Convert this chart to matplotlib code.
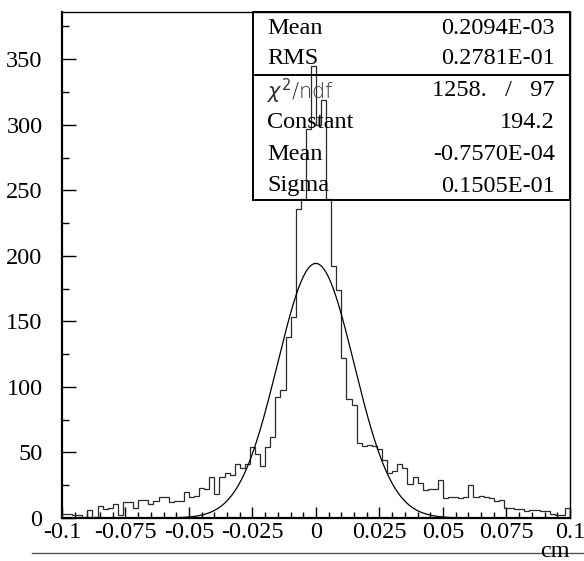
import numpy as np
import matplotlib.pyplot as plt
from matplotlib.lines import Line2D
from matplotlib.patches import Rectangle

# ----- Data ----- #
x_lo, x_hi = -0.1, 0.1
counts = [3, 3, 2, 2, 1, 6, 1, 9, 7, 8,
          11, 2, 12, 12, 8, 14, 14, 11, 13, 16,
          16, 12, 13, 13, 20, 16, 17, 23, 22, 31,
          18, 31, 34, 33, 41, 38, 41, 54, 49, 40,
          54, 62, 92, 98, 138, 153, 236, 243, 297, 345,
          300, 319, 243, 192, 174, 122, 91, 86, 57, 55,
          56, 55, 53, 44, 34, 36, 41, 38, 26, 31,
          27, 21, 22, 22, 29, 15, 16, 16, 15, 16,
          25, 16, 17, 16, 15, 13, 14, 8, 8, 7,
          7, 5, 6, 6, 5, 5, 3, 2, 2, 8]

# gaussian fit parameters (from the stats box)
fit_const = 194.2
fit_mean = -0.7570e-04
fit_sigma = 0.1505e-01

stat_labels = ["Mean", "RMS"]
stat_values = ["0.2094E-03", "0.2781E-01"]
fit_labels = [r"$\chi^{2}$/ndf", "Constant", "Mean", "Sigma"]
fit_values = ["1258.   /   97", "194.2", "-0.7570E-04", "0.1505E-01"]

x_ticks = [-0.1, -0.075, -0.05, -0.025, 0, 0.025, 0.05, 0.075, 0.1]
x_ticklabels = ["-0.1", "-0.075", "-0.05", "-0.025", "0", "0.025", "0.05", "0.075", "0.1"]
y_ticks = [0, 50, 100, 150, 200, 250, 300, 350]

# ----- Figure ----- #
serif = "Liberation Serif"
fs = 17.5
fig = plt.figure(figsize=(5.84, 5.61), dpi=100)
ax = fig.add_axes([62/584, 1 - 518/561, 508/584, 506/561])

edges = np.linspace(x_lo, x_hi, len(counts) + 1)
ax.stairs(counts, edges, color="#2a2a2a", lw=0.9, zorder=3)

xs = np.linspace(x_lo, x_hi, 600)
ax.plot(xs, fit_const * np.exp(-0.5 * ((xs - fit_mean) / fit_sigma) ** 2),
        color="black", lw=0.9, zorder=3)

ax.set_xlim(x_lo, x_hi)
ax.set_ylim(0, 386)
ax.set_xticks(x_ticks)
ax.set_xticklabels(x_ticklabels, fontfamily=serif, fontsize=fs)
ax.set_xticks(np.arange(-0.1, 0.1001, 0.005), minor=True)
ax.set_yticks(y_ticks)
ax.set_yticklabels([str(v) for v in y_ticks], fontfamily=serif, fontsize=fs)
ax.set_yticks(np.arange(25, 386, 50), minor=True)
ax.tick_params(axis="both", which="both", direction="in", width=1.0)
ax.tick_params(axis="x", which="major", length=8, pad=3)
ax.tick_params(axis="x", which="minor", length=4)
ax.tick_params(axis="y", which="major", length=10, pad=14)
ax.tick_params(axis="y", which="minor", length=5)
ax.tick_params(top=False, right=False)
for side in ["left", "bottom"]:
    ax.spines[side].set_linewidth(1.6)
for side in ["top", "right"]:
    ax.spines[side].set_linewidth(1.0)

# ----- Stats box ----- #
bx0 = (253 - 62) / 508
by0 = (518 - 200) / 506
ax.add_patch(Rectangle((bx0, by0), 1 - bx0, 1 - by0, transform=ax.transAxes,
                       fill=False, lw=1.4, ec="black", zorder=4, clip_on=False))
ax.add_line(Line2D([bx0, 1], [(518 - 75) / 506] * 2, transform=ax.transAxes,
                   color="black", lw=1.4, zorder=4))
row_y = [28, 59, 91, 123, 155, 186]
lab_x = (267 - 62) / 508
val_x = (555 - 62) / 508
for i, (lab, val) in enumerate(zip(stat_labels + fit_labels, stat_values + fit_values)):
    yy = (518 - row_y[i]) / 506
    if lab.startswith("$"):
        ax.text(lab_x, yy, lab, transform=ax.transAxes, fontsize=15,
                fontfamily="DejaVu Sans", fontweight="light", color="#333333",
                va="center", ha="left", zorder=5)
    else:
        ax.text(lab_x, yy, lab, transform=ax.transAxes, fontsize=fs,
                fontfamily=serif, va="center", ha="left", zorder=5)
    ax.text(val_x, yy, val, transform=ax.transAxes, fontsize=fs,
            fontfamily=serif, va="center", ha="right", zorder=5)

# ----- Axis title line ----- #
fig.add_artist(Line2D([32/584, 1], [1 - 553/561] * 2, color="#555555", lw=1.0))
fig.text(555/584, 1 - 557/561, "cm", fontfamily=serif, fontsize=fs,
         ha="center", va="baseline")

fig.savefig("out.png", dpi=100)
